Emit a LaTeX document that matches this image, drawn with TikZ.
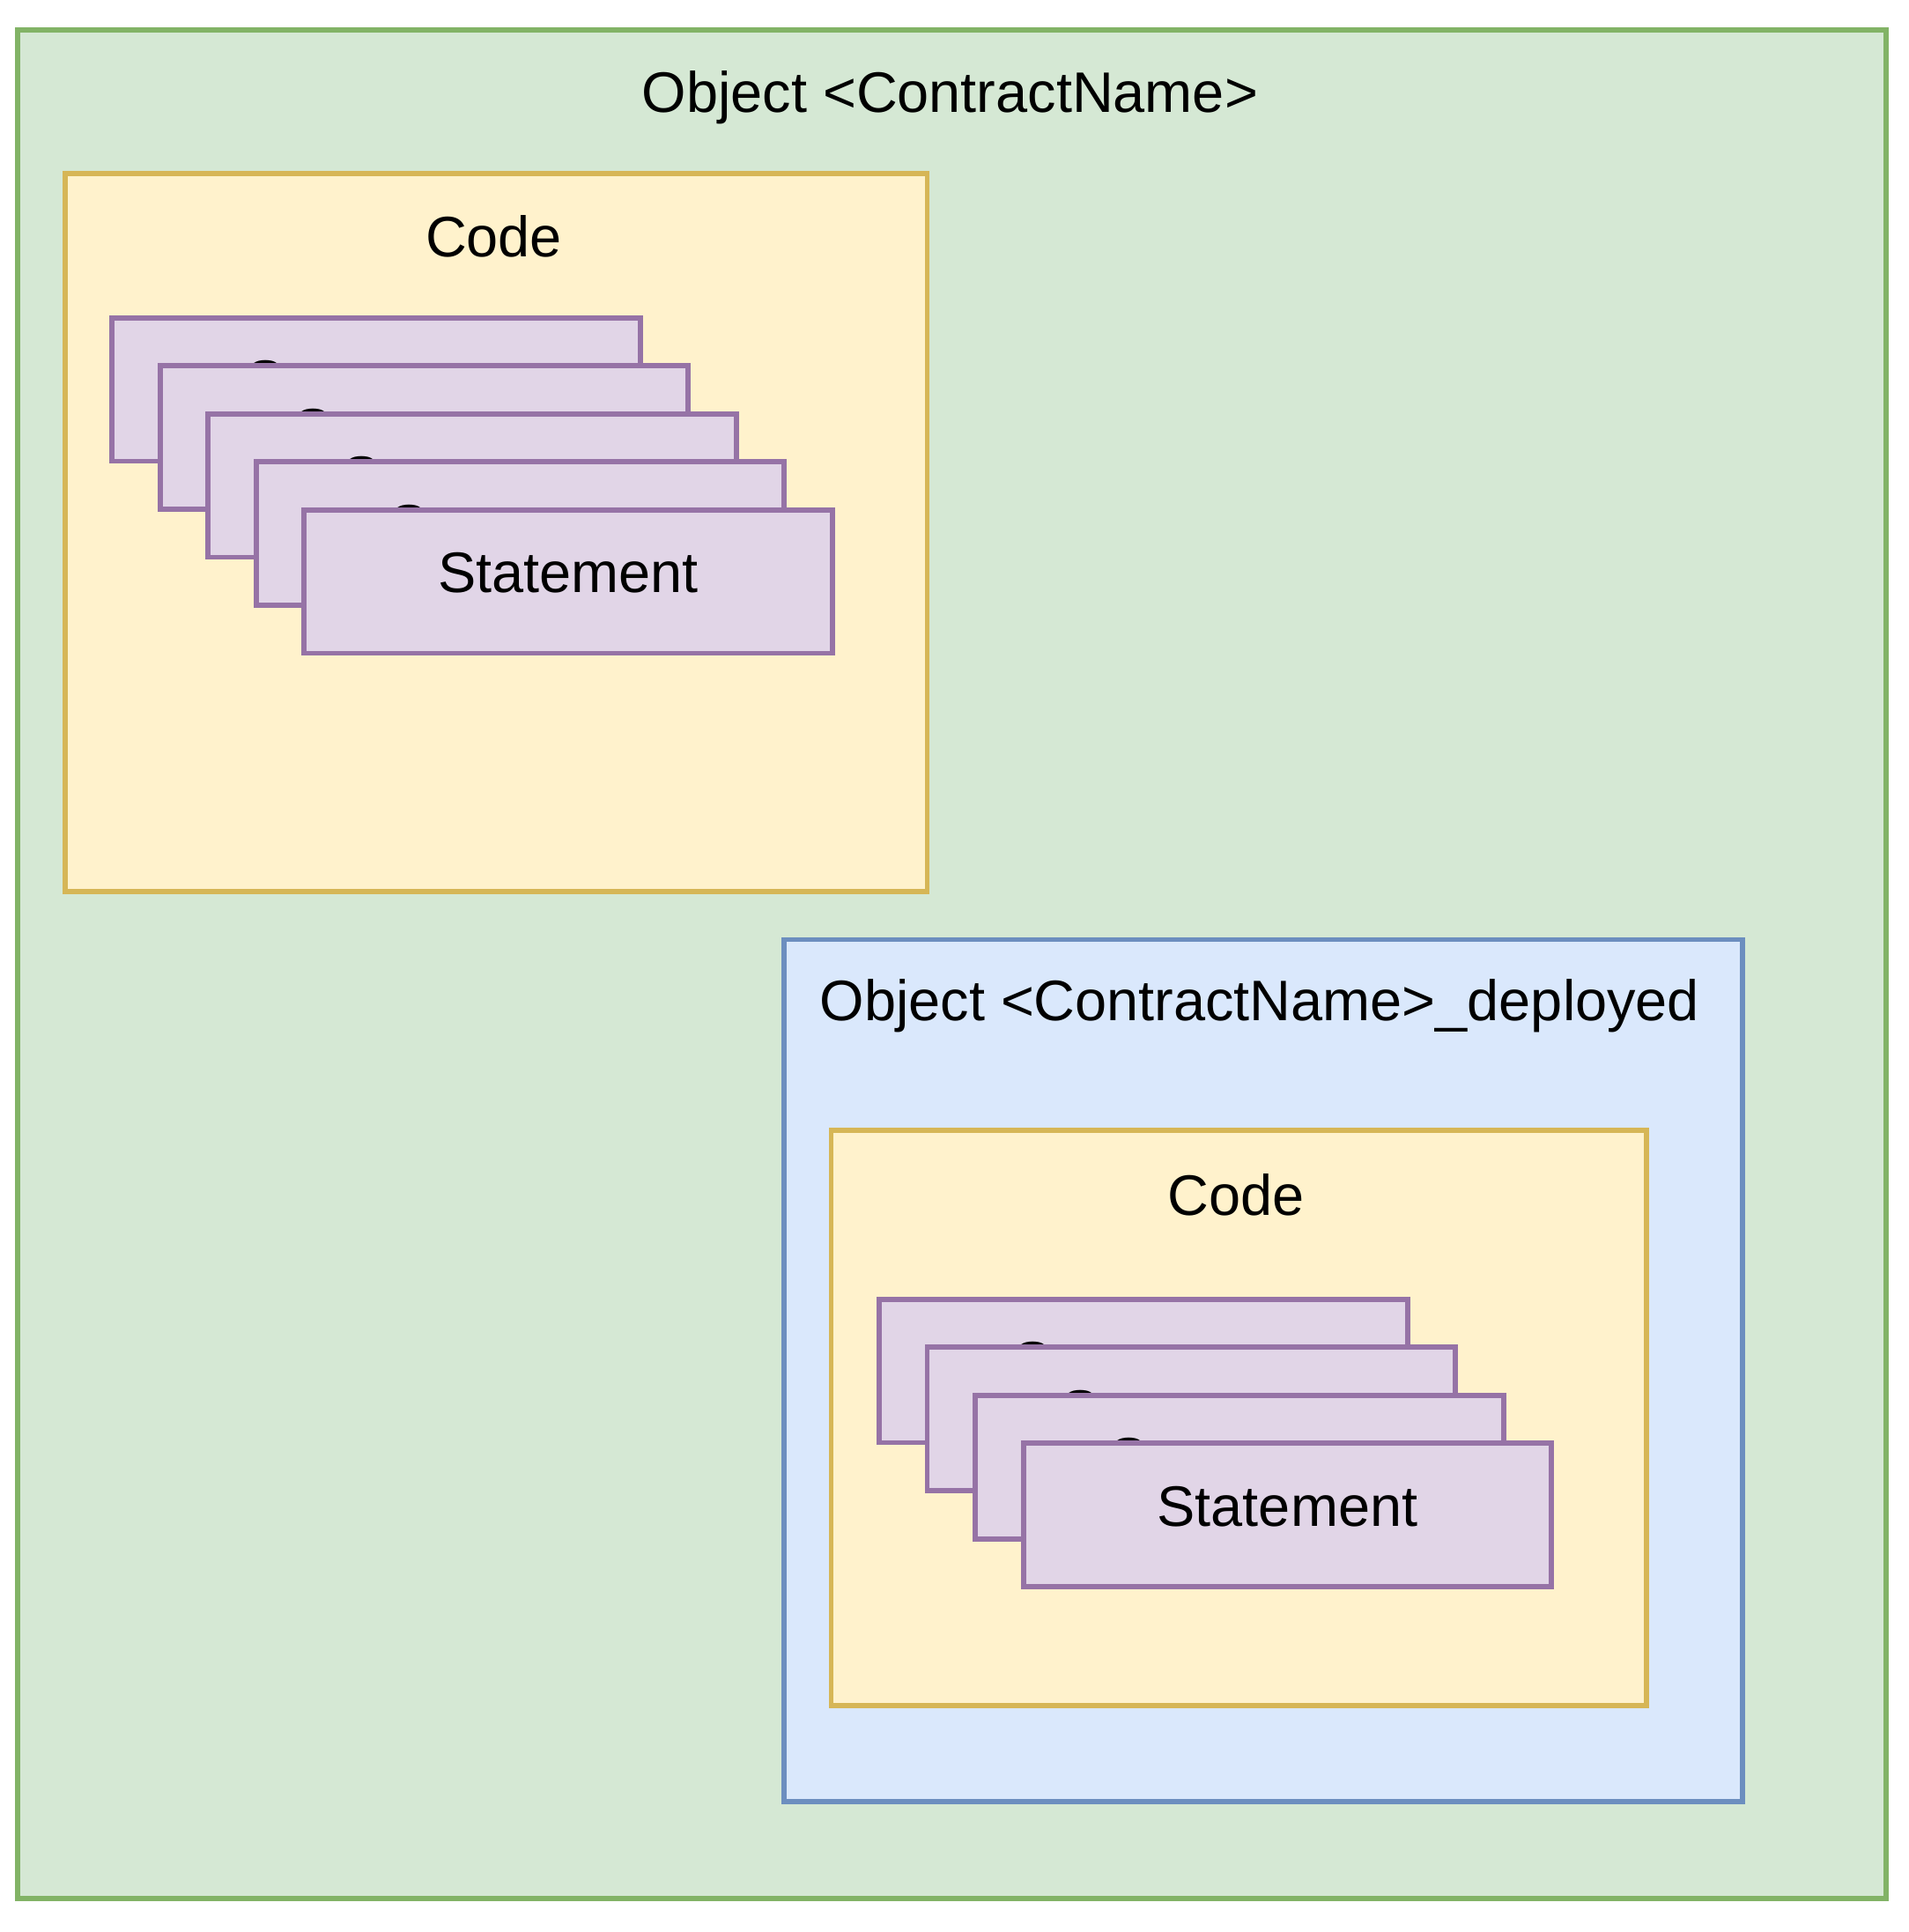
\documentclass[tikz,border=0pt]{standalone}
\usepackage{fontspec}
\setmainfont{Liberation Sans}
\usepackage{tikz}

\definecolor{objfill}{HTML}{D5E8D4}
\definecolor{objline}{HTML}{82B366}
\definecolor{codefill}{HTML}{FFF2CC}
\definecolor{codeline}{HTML}{D6B656}
\definecolor{depfill}{HTML}{DAE8FC}
\definecolor{depline}{HTML}{6C8EBF}
\definecolor{stmtfill}{HTML}{E1D5E7}
\definecolor{stmtline}{HTML}{9673A6}

\tikzset{
  objbox/.style={draw=objline, fill=objfill, line width=1.2pt},
  codebox/.style={draw=codeline, fill=codefill, line width=1.2pt},
  depbox/.style={draw=depline, fill=depfill, line width=1.2pt},
  stmtbox/.style={draw=stmtline, fill=stmtfill, line width=1.2pt, inner sep=0pt,
    minimum width=4.29cm, minimum height=1.165cm, text depth=0.4em},
  lbl/.style={inner sep=0pt}
}

\begin{document}
\begin{tikzpicture}[y=-1cm, font=\fontsize{13.2}{16}\selectfont]
\useasboundingbox (0, 0) rectangle (15.496, 15.689);

\draw[objbox] (0.14, 0.24) rectangle (15.32, 15.42);
\node[lbl] (objtitle) at (7.715, 0.79) {Object <ContractName>};

\draw[codebox] (0.53, 1.41) rectangle (7.53, 7.24);
\node[lbl] (code) at (4.01, 1.92) {Code};
\foreach \i in {0,...,4}
  \node[stmtbox] (stmt\i) at ({3.055 + 0.39*\i}, {3.1625 + 0.39*\i}) {Statement};

\draw[depbox] (6.37, 7.63) rectangle (14.15, 14.63);
\node[lbl] (deptitle) at (10.23, 8.17) {Object <ContractName>\_deployed};

\draw[codebox] (6.75, 9.18) rectangle (13.37, 13.85);
\node[lbl] (depcode) at (10.04, 9.70) {Code};
\foreach \i in {0,...,3}
  \node[stmtbox] (depstmt\i) at ({9.285 + 0.39*\i}, {11.1325 + 0.39*\i}) {Statement};
\end{tikzpicture}
\end{document}
